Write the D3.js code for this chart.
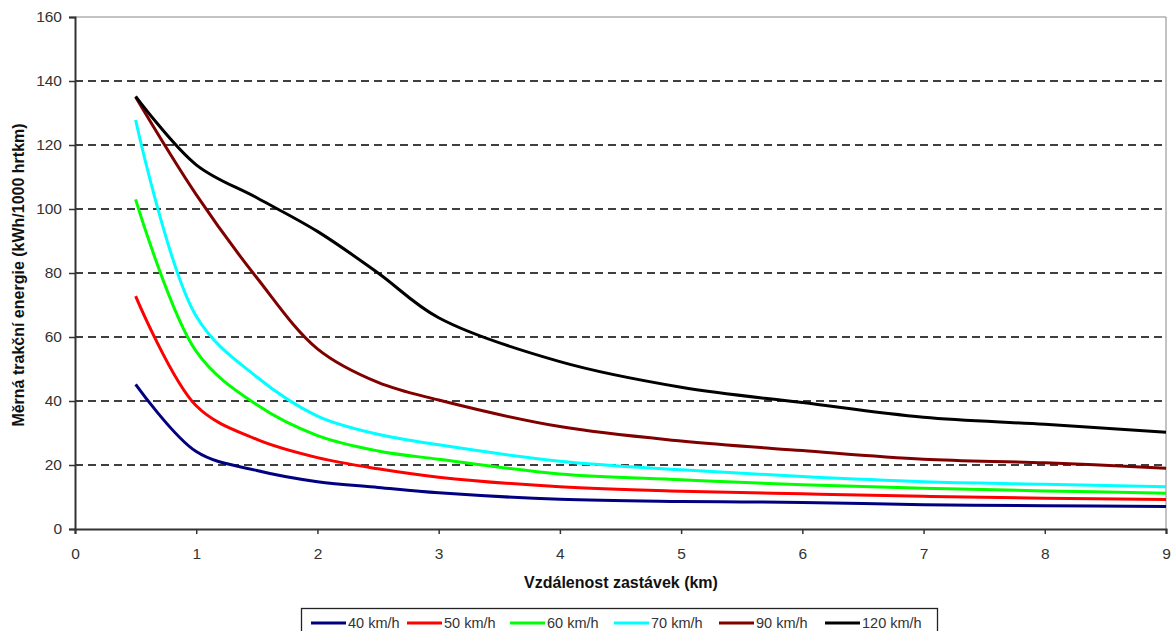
<!DOCTYPE html>
<html>
<head>
<meta charset="utf-8">
<script src="https://cdnjs.cloudflare.com/ajax/libs/d3/7.8.5/d3.min.js"></script>
<style>
  body { margin: 0; background: #fff; }
  svg { font-family: "Liberation Sans", Arial, sans-serif; }
</style>
</head>
<body>
<svg id="chart" width="1171" height="631"></svg>
<script>
// distances (km) and energy per speed
var distances = [0.5, 1, 1.5, 2, 2.5, 3, 4, 5, 6, 7, 8, 9];
var v40  = [45.2, 24.2, 18.3, 14.8, 13.0, 11.3, 9.3, 8.6, 8.3, 7.6, 7.3, 7.0];
var v50  = [72.8, 38.5, 28.0, 22.3, 18.8, 16.2, 13.2, 11.8, 11.0, 10.2, 9.6, 9.2];
var v60  = [103.0, 55.5, 38.8, 29.2, 24.4, 21.8, 17.2, 15.4, 13.8, 12.7, 11.9, 11.2];
var v70  = [127.8, 66.5, 47.5, 35.3, 29.6, 26.3, 21.2, 18.5, 16.4, 14.8, 14.0, 13.2];
var v90  = [135.0, 104.5, 78.5, 56.3, 45.8, 40.3, 32.0, 27.5, 24.5, 21.8, 20.7, 19.0];
var v120 = [135.2, 113.8, 103.5, 93.0, 80.0, 66.0, 52.3, 44.3, 39.5, 34.9, 32.7, 30.2];

var seriesNames = ["40 km/h", "50 km/h", "60 km/h", "70 km/h", "90 km/h", "120 km/h"];
var seriesValues = [v40, v50, v60, v70, v90, v120];
var colors = ["#000080", "#ff0000", "#00ff00", "#00ffff", "#800000", "#000000"];

var xTicks = [0, 1, 2, 3, 4, 5, 6, 7, 8, 9];
var yTicks = [0, 20, 40, 60, 80, 100, 120, 140, 160];

var svg = d3.select("#chart");
var plotL = 75, plotR = 1166, plotT = 17, plotB = 529;

var x = d3.scaleLinear().domain([0, 9]).range([plotL, plotR]);
var y = d3.scaleLinear().domain([0, 160]).range([plotB, plotT]);

// dashed grid
svg.append("g").selectAll("line")
  .data(yTicks.filter(function (d) { return d > 0 && d < 160; }))
  .enter().append("line")
  .attr("x1", plotL).attr("x2", plotR)
  .attr("y1", function (d) { return y(d); }).attr("y2", function (d) { return y(d); })
  .attr("stroke", "#000").attr("stroke-width", 1.3).attr("stroke-dasharray", "8,5");

// frame top / right
svg.append("line").attr("x1", plotL).attr("x2", plotR).attr("y1", plotT).attr("y2", plotT)
  .attr("stroke", "#888").attr("stroke-width", 1);
svg.append("line").attr("x1", plotR).attr("x2", plotR).attr("y1", plotT).attr("y2", plotB)
  .attr("stroke", "#888").attr("stroke-width", 1);

// axes
var xAxis = svg.append("g").attr("transform", "translate(0," + plotB + ")")
  .call(d3.axisBottom(x).tickValues(xTicks).tickFormat(d3.format("d")).tickSize(5).tickPadding(14));
var yAxis = svg.append("g").attr("transform", "translate(" + plotL + ",0)")
  .call(d3.axisLeft(y).tickValues(yTicks).tickFormat(d3.format("d")).tickSize(6).tickPadding(7));

[xAxis, yAxis].forEach(function (g) {
  g.select(".domain").attr("stroke", "#333").attr("stroke-width", 2);
  g.selectAll(".tick line").attr("stroke", "#333").attr("stroke-width", 1.5);
  g.selectAll(".tick text").attr("fill", "#333").style("font-size", "15.5px")
    .style("font-family", "'Liberation Sans', Arial, sans-serif");
});

// lines
var line = d3.line()
  .x(function (d) { return x(d[0]); })
  .y(function (d) { return y(d[1]); })
  .curve(d3.curveCatmullRom.alpha(0.5));

seriesValues.forEach(function (vals, i) {
  svg.append("path")
    .datum(distances.map(function (d, j) { return [d, vals[j]]; }))
    .attr("d", line)
    .attr("fill", "none")
    .attr("stroke", colors[i])
    .attr("stroke-width", 3)
    .attr("stroke-linejoin", "round");
});

// axis titles
svg.append("text").attr("x", 621).attr("y", 588).attr("text-anchor", "middle")
  .style("font-size", "16px").style("font-weight", "bold").attr("fill", "#111")
  .text("Vzdálenost zastávek (km)");
svg.append("text").attr("transform", "translate(24,275) rotate(-90)").attr("text-anchor", "middle")
  .style("font-size", "16px").style("font-weight", "bold").attr("fill", "#111")
  .text("Měrná trakční energie (kWh/1000 hrtkm)");

// legend
var legend = svg.append("g");
legend.append("rect").attr("x", 301.5).attr("y", 608.5).attr("width", 636).attr("height", 30)
  .attr("fill", "#fff").attr("stroke", "#222").attr("stroke-width", 1.3);
var legendX = [311, 407, 510, 614, 719, 825];
seriesNames.forEach(function (name, i) {
  var g = legend.append("g").attr("transform", "translate(" + legendX[i] + ",623)");
  g.append("line").attr("x1", 0).attr("x2", 35).attr("y1", 0).attr("y2", 0)
    .attr("stroke", colors[i]).attr("stroke-width", 3);
  g.append("text").attr("x", 37).attr("y", 5).style("font-size", "14.5px").attr("fill", "#333")
    .text(name);
});
</script>
</body>
</html>
